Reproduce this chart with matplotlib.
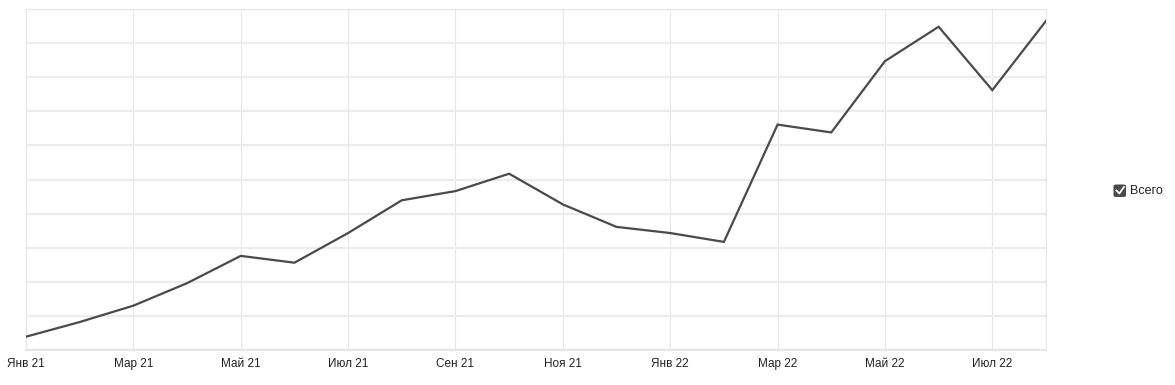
import matplotlib.pyplot as plt
from matplotlib.patches import FancyBboxPatch
from matplotlib.lines import Line2D

# monthly totals, Jan 21 .. Aug 22
MONTHS = ["Янв 21", "Фев 21", "Мар 21", "Апр 21", "Май 21", "Июн 21", "Июл 21",
          "Авг 21", "Сен 21", "Окт 21", "Ноя 21", "Дек 21", "Янв 22", "Фев 22",
          "Мар 22", "Апр 22", "Май 22", "Июн 22", "Июл 22", "Авг 22"]
TOTAL = [0.39, 0.82, 1.30, 1.96, 2.76, 2.56, 3.43, 4.39, 4.66, 5.17,
         4.27, 3.61, 3.43, 3.17, 6.61, 6.38, 8.47, 9.48, 7.62, 9.65]
SERIES_NAME = "Всего"

plt.rcParams['font.family'] = ['Liberation Sans', 'DejaVu Sans']

fig = plt.figure(figsize=(11.75, 3.85), dpi=100)
ax = fig.add_axes([26 / 1175, 1 - 350 / 385, (1046 - 26) / 1175, (350 - 9) / 385])

x = list(range(len(TOTAL)))
ax.plot(x, TOTAL, color="#4a4a4a", lw=1.6, solid_joinstyle="miter", zorder=3)

ax.set_xlim(0, len(TOTAL) - 1)
ax.set_ylim(0, 10)
ax.set_xticks(x[::2])
ax.set_xticklabels(MONTHS[::2], fontsize=8.5, color="#222222")
ax.set_yticks(range(0, 11))
ax.set_yticklabels([])
ax.tick_params(length=0, pad=6)

ax.grid(axis="y", color="#ececec", lw=1.6)
ax.grid(axis="x", color="#e6e6e6", lw=0.8)
for s in ax.spines.values():
    s.set_color("#e6e6e6")
    s.set_linewidth(0.8)
ax.spines["bottom"].set_color("#e6e6e6")
ax.spines["bottom"].set_linewidth(1.6)
ax.set_axisbelow(True)

# legend with checkbox
box = FancyBboxPatch((1113.5 / 1175, 1 - 197 / 385), 12.5 / 1175, 12.5 / 385,
                     boxstyle="round,pad=0,rounding_size=0.003",
                     transform=fig.transFigure, facecolor="#4a4a4a",
                     edgecolor="none")
fig.patches.append(box)
fig.lines.append(Line2D([1116.5 / 1175, 1119.3 / 1175, 1124 / 1175],
                        [1 - 190.5 / 385, 1 - 193.5 / 385, 1 - 187 / 385],
                        transform=fig.transFigure, color="white", lw=1.3))
fig.text(1130 / 1175, 1 - 191 / 385, SERIES_NAME, fontsize=9, color="#222222",
         va="center", ha="left")

plt.savefig("out.png", dpi=100)
